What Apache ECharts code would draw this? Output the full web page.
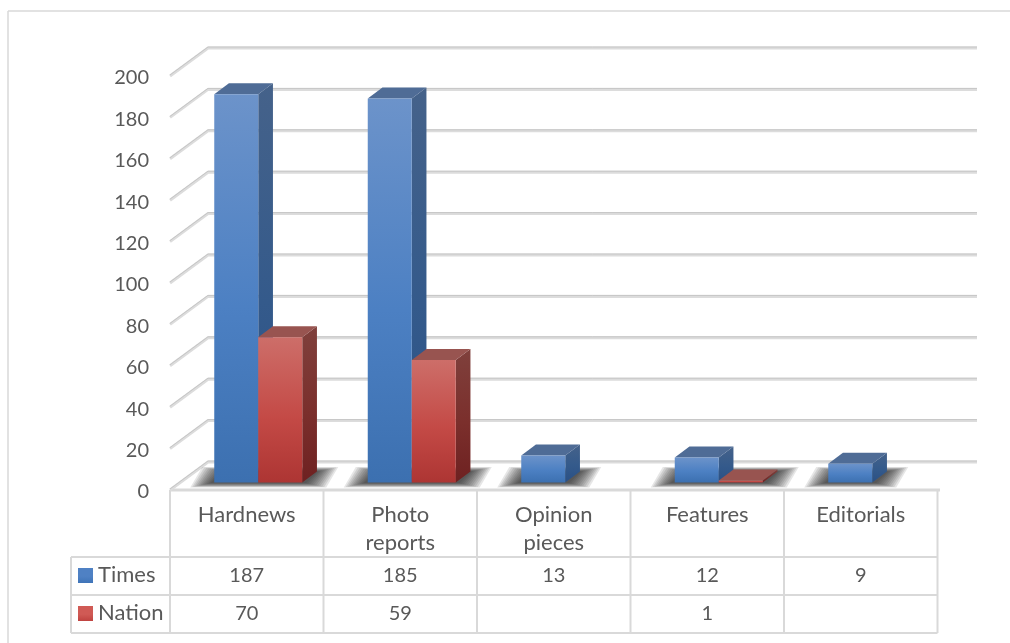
<!DOCTYPE html>
<html><head><meta charset="utf-8">
<style>html,body{margin:0;padding:0;background:#fff}#c{width:1010px;height:643px}</style>
<script src="https://cdn.jsdelivr.net/npm/echarts@6/dist/echarts.min.js"></script>
</head><body><div id="c"></div>
<script>
const categories = ['Hardnews', 'Photo\nreports', 'Opinion\npieces', 'Features', 'Editorials'];
const times = [187, 185, 13, 12, 9];
const nation = [70, 59, null, 1, null];
const yTicks = [0, 20, 40, 60, 80, 100, 120, 140, 160, 180, 200];

const FONT = 'Lato, "Open Sans", sans-serif';
const TXT = '#595959', LINE = '#d9d9d9';
const DX = 38, DY = -28, WALL_RIGHT = 977, LABEL_SHIFT = 2;
const BAR_W = 44, SIDE_X = 14.7, SIDE_Y = -11;
const SHADOW_LAYERS = [20, 18, 16, 14, 12, 10, 8, 6, 4, 2, 0];

const chart = echarts.init(document.getElementById('c'), null, {renderer: 'canvas'});
const grad = (a, b, c) => ({type: 'linear', x: 0, y: 0, x2: 0, y2: 1,
  colorStops: [{offset: 0, color: a}, {offset: .55, color: b}, {offset: 1, color: c}]});

function wallItem(p, api) {
  const pos = api.coord([0, api.value(0)]);
  const x = pos[0] - api.size([1, 0])[0] / 2, y = pos[1] - LABEL_SHIFT;
  const pts = [[x, y], [x + DX, y + DY], [WALL_RIGHT, y + DY]];
  return {type: 'group', children: [
    {type: 'polyline', shape: {points: pts}, style: {fill: null, stroke: '#dcdcdc', lineWidth: 3}},
    {type: 'polyline', shape: {points: pts.map(q => [q[0], q[1] - 1])}, style: {fill: null, stroke: '#c6c6c6', lineWidth: 1}}
  ]};
}
function shadowItem(params, api) {
  const i = api.value(0), n = nation[i] == null ? 1 : 2;
  const base = api.coord([i, 0]);
  const x0 = base[0] - BAR_W, x1 = x0 + n * BAR_W, y = base[1];
  return {type: 'group', children: SHADOW_LAYERS.map(d => {
    const ex = d * 1.0, ey = d * 0.22;
    return {type: 'polygon',
      shape: {points: [[x0 - 4 - ex, y + 0.5 + ey], [x1 + 4 + ex, y + 0.5 + ey], [x1 + 16 + ex, y - 11 - ey], [x0 + 8 - ex, y - 11 - ey]]},
      style: {fill: 'rgba(25,25,25,.11)'}};
  })};
}
function barItem(offset, front, side, top) {
  return function (params, api) {
    const v = api.value(1);
    if (v == null || isNaN(v)) return null;
    const i = api.value(0);
    const t = api.coord([i, v]), b = api.coord([i, 0]);
    const x = t[0] + offset * BAR_W, y = t[1], y0 = b[1], w = BAR_W;
    return {type: 'group', children: [
      {type: 'polygon', shape: {points: [[x + w, y], [x + w + SIDE_X, y + SIDE_Y], [x + w + SIDE_X, y0 + SIDE_Y], [x + w, y0]]}, style: {fill: side}},
      {type: 'polygon', shape: {points: [[x, y], [x + SIDE_X, y + SIDE_Y], [x + w + SIDE_X, y + SIDE_Y], [x + w, y]]}, style: {fill: top}},
      {type: 'rect', shape: {x: x, y: y, width: w, height: y0 - y}, style: {fill: front}}
    ]};
  };
}

// data table drawn from the same arrays
const tableX = [170, 323.5, 477, 630.5, 784, 937.5], left = 71;
const rows = [490, 557, 595, 633];
const g = [];
const ln = (x1, y1, x2, y2, w) => g.push({type: 'line', shape: {x1, y1, x2, y2}, style: {stroke: LINE, lineWidth: w || 2}, z: 1});
const tx = (text, x, y, align, size) => g.push({type: 'text', x, y, style: {text, x: 0, y: 0, fill: TXT, font: (size || 20) + 'px ' + FONT, align: align || 'center', verticalAlign: 'middle'}, z: 5});
ln(8, 11, 1010, 11, 1.5); ln(8, 11, 8, 643, 1.5);
ln(170, 490, 940, 490, 3);
tableX.forEach(x => ln(x, 490, x, 633));
ln(left, 557, left, 633);
rows.slice(1).forEach(y => ln(left, y, 937.5, y));
const centers = tableX.slice(0, 5).map((x, i) => (x + tableX[i + 1]) / 2);
[['Times', times, '#4f81c4', '#3f74b8', 575], ['Nation', nation, '#d05a55', '#bf4340', 613]].forEach(r => {
  g.push({type: 'rect', shape: {x: 78, y: r[4] - 7, width: 15, height: 15}, style: {fill: grad(r[2], r[2], r[3])}, z: 5});
  tx(r[0], 98, r[4], 'left', 22);
  r[1].forEach((v, i) => { if (v != null) tx(String(v), centers[i], r[4] + 0.5); });
});

chart.setOption({
  animation: false, backgroundColor: '#fff',
  grid: [
    {left: 170, width: 767.5, top: 76 + LABEL_SHIFT, height: 414},
    {left: 181.5, width: 767.5, top: 67.3, height: 415.2}
  ],
  xAxis: [
    {type: 'category', gridIndex: 0, data: categories, axisLine: {show: false}, axisTick: {show: false},
     axisLabel: {interval: 0, margin: 9, color: TXT, fontFamily: 'Lato', fontSize: 22, lineHeight: 28, verticalAlign: 'top'}},
    {type: 'category', gridIndex: 1, data: categories, show: false}
  ],
  yAxis: [
    {type: 'value', gridIndex: 0, min: 0, max: 200, interval: 20, splitLine: {show: false}, axisLine: {show: false}, axisTick: {show: false},
     axisLabel: {margin: 21, color: TXT, fontFamily: 'Lato', fontSize: 20}},
    {type: 'value', gridIndex: 1, min: 0, max: 200, interval: 20, show: false, splitLine: {show: false}}
  ],
  graphic: g,
  series: [
    {type: 'custom', name: 'walls', xAxisIndex: 0, yAxisIndex: 0, clip: false, z: 1, silent: true,
     encode: {y: 0}, data: yTicks.map(t => [t]), renderItem: wallItem},
    {type: 'custom', name: 'shadow', xAxisIndex: 1, yAxisIndex: 1, clip: false, z: 2, silent: true,
     data: times.map((v, i) => [i, 0]), renderItem: shadowItem},
    {type: 'custom', name: 'Times', xAxisIndex: 1, yAxisIndex: 1, clip: false, z: 3,
     data: times.map((v, i) => [i, v]),
     renderItem: barItem(-1, grad('#6c93ca', '#4c80c3', '#3c70b0'), grad('#45628a', '#345a8b', '#2a5085'), '#4f6c96')},
    {type: 'custom', name: 'Nation', xAxisIndex: 1, yAxisIndex: 1, clip: false, z: 4,
     data: nation.map((v, i) => [i, v]),
     renderItem: barItem(0, grad('#cd6e69', '#c44a46', '#ad3533'), grad('#7f403c', '#7b2f2c', '#6e2121'), '#985450')}
  ]
});
</script></body></html>
